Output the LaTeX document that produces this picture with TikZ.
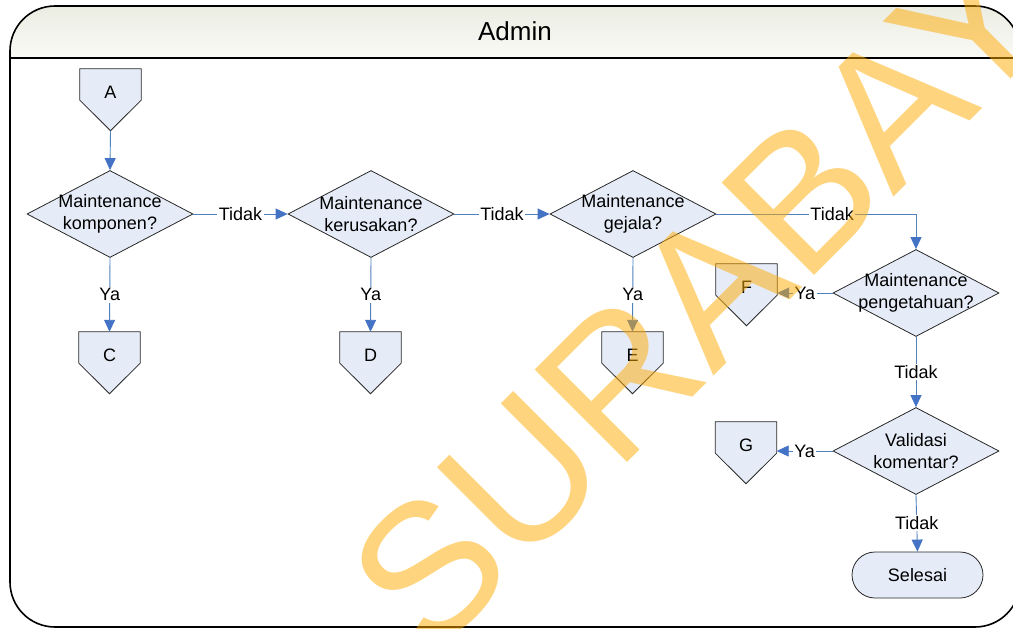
\documentclass[tikz,border=0pt]{standalone}
\usepackage{fontspec}
\setmainfont{Liberation Sans}
\usetikzlibrary{shapes.geometric,arrows.meta,calc,backgrounds}
\definecolor{nodefill}{RGB}{230,236,247}
\definecolor{nodeline}{RGB}{40,40,40}
\definecolor{flowline}{RGB}{79,129,189}
\definecolor{flowhead}{RGB}{68,114,196}
\definecolor{headtop}{RGB}{235,237,226}
\definecolor{headbottom}{RGB}{250,250,246}
\definecolor{stamp}{RGB}{255,170,0}
\begin{document}
\begin{tikzpicture}[x=1pt,y=-1pt,
  every node/.style={font=\fontsize{18}{22}\selectfont},
  decision/.style={diamond, aspect=1.9, draw=nodeline, fill=nodefill, line width=0.8pt,
    inner sep=-12pt, align=center, minimum width=166pt, minimum height=87pt},
  offpage/.style={rectangle, minimum width=61pt, minimum height=31pt, inner sep=0pt,
    text height=27pt, text depth=0pt},
  offshape/.style={draw=nodeline, fill=nodefill, line width=0.8pt, line join=miter},
  terminal/.style={rectangle, rounded corners=23pt, draw=nodeline, fill=nodefill,
    line width=0.8pt, minimum width=131pt, minimum height=46pt},
  flow/.style={draw=flowline, line width=0.9pt,
    -{Triangle[length=12pt,width=11pt,color=flowhead]}},
  answer/.style={fill=white, inner sep=1.5pt},
  frame/.style={draw=black, line width=1.6pt, rounded corners=45pt},
]
\useasboundingbox (0,0) rectangle (1013,629);

% swimlane frame with shaded header
\begin{scope}
  \clip[rounded corners=45pt] (10,6) rectangle (1020,627);
  \shade[top color=headtop, bottom color=headbottom] (10,6) rectangle (1020,58);
\end{scope}
\draw[frame] (10,6) rectangle (1020,627);
\draw[line width=1.6pt] (10,58) -- (1020,58);
\node[font=\fontsize{26}{30}\selectfont] (title) at (515,31) {Admin};

% decisions
\node[decision] (d1) at (110,214) {Maintenance\\komponen?};
\node[decision] (d2) at (371,214) {Maintenance\\kerusakan?};
\node[decision] (d3) at (633,214) {Maintenance\\gejala?};
\node[decision] (d4) at (916,293) {Maintenance\\pengetahuan?};
\node[decision] (d5) at (916,451) {Validasi\\komentar?};

% off-page references
\node[offpage] (A) at (110.5,84.5) {A};
\node[offpage] (C) at (109.5,347.5) {C};
\node[offpage] (D) at (370.5,347.5) {D};
\node[offpage] (E) at (632.5,347.5) {E};
\node[offpage] (F) at (746.5,279.5) {F};
\node[offpage] (G) at (746,437.5) {G};
\begin{scope}[on background layer]
  \foreach \n in {A,C,D,E,F,G}
    \draw[offshape] (\n.north west) -- (\n.north east) -- (\n.south east)
      -- ($(\n.south)+(0,30.5)$) -- (\n.south west) -- cycle;
\end{scope}
\coordinate (Atip) at ($(A.south)+(0,30.5)$);

% end
\node[terminal] (end) at (917.5,575) {Selesai};

% connectors
\draw[flow] (Atip) -- (d1.north);
\draw[flow] (d1.south) -- node[answer] {Ya} (C.north);
\draw[flow] (d1.east) -- node[answer] {Tidak} (d2.west);
\draw[flow] (d2.south) -- node[answer] {Ya} (D.north);
\draw[flow] (d2.east) -- node[answer] {Tidak} (d3.west);
\draw[flow] (d3.south) -- node[answer] {Ya} (E.north);
\draw[flow] (d3.east) -| node[answer, pos=0.29] {Tidak} (d4.north);
\draw[flow] (d4.west) -- node[answer] {Ya} (d4.west -| F.east);
\draw[flow] (d4.south) -- node[answer] {Tidak} (d5.north);
\draw[flow] (d5.west) -- node[answer] {Ya} (d5.west -| G.east);
\draw[flow] (d5.south) -- node[answer] {Tidak} (end.north);

% diagonal stamp over the sheet
\node[rotate=45, text=stamp, opacity=0.5, inner sep=0pt,
  font=\fontsize{190}{190}\selectfont] (stamp) at (740,258) {SURABAYA};
\end{tikzpicture}
\end{document}
